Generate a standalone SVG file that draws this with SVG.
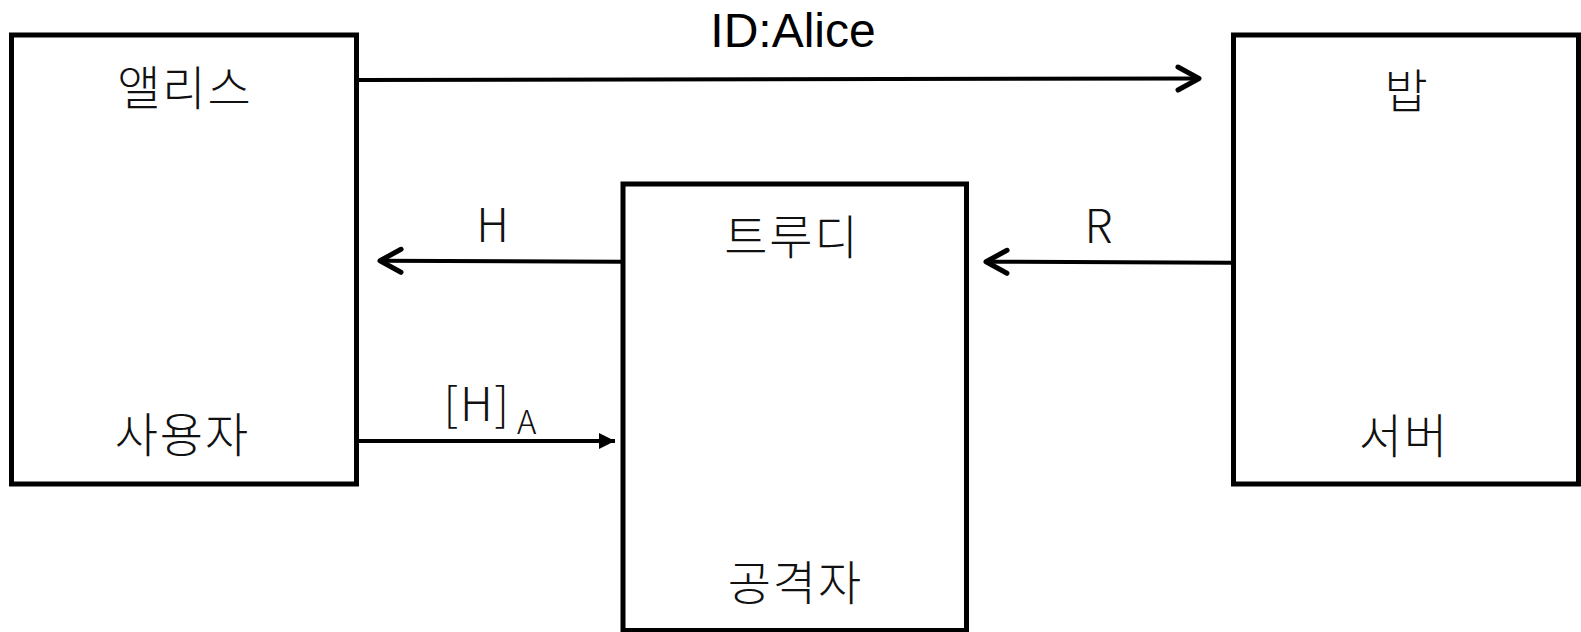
<svg xmlns="http://www.w3.org/2000/svg" width="1581" height="632" viewBox="0 0 1581 632">
<defs>
<style>
.box{fill:#fff;stroke:#000;stroke-width:5}
.ko{font-family:"Noto Sans CJK KR","Noto Sans",sans-serif;font-size:47px;font-weight:300;letter-spacing:2px;text-anchor:middle;fill:#111}
.lat{font-family:"Liberation Sans",Arial,sans-serif;fill:#000}
.lbl{font-family:"Noto Sans CJK KR","Liberation Sans",sans-serif;font-size:46px;font-weight:300;fill:#111;text-anchor:middle}
.conn{stroke:#000;stroke-width:4;fill:none}
</style>
<marker id="chev" viewBox="-30 -20 40 40" markerWidth="40" markerHeight="40" refX="0" refY="0" orient="auto" markerUnits="userSpaceOnUse" overflow="visible">
<path d="M -21 -11.5 L 0 0 L -21 11.5" fill="none" stroke="#000" stroke-width="5" stroke-linecap="round" stroke-linejoin="round"/>
</marker>
<marker id="tri" viewBox="-20 -10 24 20" markerWidth="24" markerHeight="20" refX="0" refY="0" orient="auto" markerUnits="userSpaceOnUse" overflow="visible">
<path d="M -16 -8 L 0 0 L -16 8 Z" fill="#000"/>
</marker>
</defs>
<rect width="1581" height="632" fill="#fff"/>
<g id="alice">
<rect class="box" x="11.5" y="35" width="345" height="449"/>
<text class="ko" x="185" y="105">앨리스</text>
<text class="ko" x="182.5" y="451.5">사용자</text>
</g>
<g id="bob">
<rect class="box" x="1233.5" y="35" width="345" height="449"/>
<text class="ko" x="1407" y="107.5">밥</text>
<text class="ko" x="1404" y="453">서버</text>
</g>
<g id="trudy">
<rect class="box" x="623" y="184" width="343.5" height="446.5"/>
<text class="ko" x="792" y="254">트루디</text>
<text class="ko" x="795.5" y="600">공격자</text>
</g>
<g id="connectors">
<path class="conn" d="M 359 80 L 1199 78.5" marker-end="url(#chev)"/>
<path class="conn" d="M 621 261.7 L 380 260.7" marker-end="url(#chev)"/>
<path class="conn" d="M 1231 262.7 L 986 261.7" marker-end="url(#chev)"/>
<path class="conn" d="M 359 441 L 615 441" marker-end="url(#tri)"/>
</g>
<g id="labels">
<text class="lat" x="793" y="46.5" font-size="48" text-anchor="middle">ID:Alice</text>
<text class="lbl" x="492.5" y="241.7">H</text>
<text class="lbl" x="1098.5" y="242.7">R</text>
<text class="lbl" x="490" y="420.7" letter-spacing="2">[H]<tspan font-size="33" dx="6" dy="13.6" letter-spacing="0">A</tspan></text>
</g>
</svg>
